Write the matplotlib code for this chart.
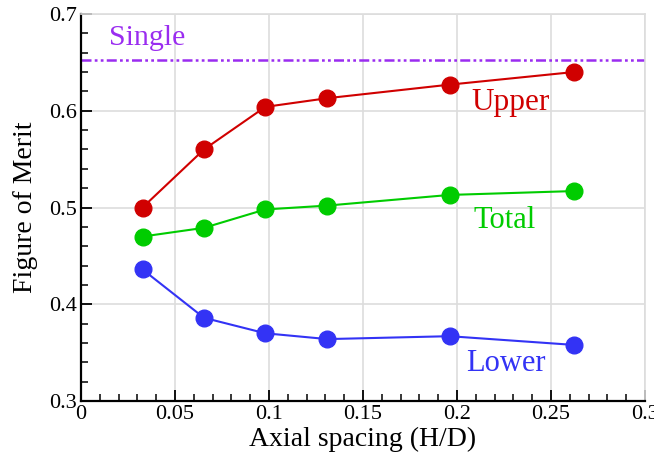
import numpy as np
import matplotlib
matplotlib.use('Agg')
import matplotlib.pyplot as plt
from matplotlib.ticker import MultipleLocator, FuncFormatter

spacing = [0.0327, 0.0654, 0.098, 0.131, 0.196, 0.262]
upper = [0.500, 0.560, 0.604, 0.613, 0.627, 0.640]
total = [0.470, 0.479, 0.498, 0.502, 0.513, 0.517]
lower = [0.436, 0.386, 0.370, 0.364, 0.367, 0.358]
single = 0.652

red = '#d00000'
green = '#00cc00'
blue = '#3333f5'
purple = '#9a2cf0'

plt.rcParams['font.family'] = ['Liberation Serif', 'DejaVu Serif']

fig = plt.figure(figsize=(6.54, 4.72), dpi=100)
ax = fig.add_axes([0.1239, 0.1504, 0.8624, 0.8199])

ax.axhline(single, color=purple, lw=1.8, dashes=(4, 1.3, 1.1, 1.3, 1.1, 1.3))
ax.plot(spacing, upper, '-o', color=red, lw=1.5, ms=12)
ax.plot(spacing, total, '-o', color=green, lw=1.5, ms=12)
ax.plot(spacing, lower, '-o', color=blue, lw=1.5, ms=12)

ax.text(0.035, 0.675, 'Single', color=purple, fontsize=21.5, ha='center', va='center')
ax.text(0.2287, 0.609, 'Upper', color=red, fontsize=22.5, ha='center', va='center')
ax.text(0.2255, 0.487, 'Total', color=green, fontsize=22, ha='center', va='center')
ax.text(0.226, 0.339, 'Lower', color=blue, fontsize=22, ha='center', va='center')

ax.set_xlim(0, 0.3)
ax.set_ylim(0.3, 0.7)
ax.xaxis.set_major_locator(MultipleLocator(0.05))
ax.xaxis.set_minor_locator(MultipleLocator(0.01))
ax.yaxis.set_major_locator(MultipleLocator(0.1))
ax.yaxis.set_minor_locator(MultipleLocator(0.02))
fmt = FuncFormatter(lambda v, p: ('%.2f' % v).rstrip('0').rstrip('.') if abs(v) > 1e-9 else '0')
ax.xaxis.set_major_formatter(fmt)
ax.yaxis.set_major_formatter(fmt)

ax.grid(True, which='major', color='#dddddd', lw=1.2)
ax.set_axisbelow(True)
ax.tick_params(which='both', direction='in', top=False, right=False, labelsize=16, color='black', pad=3)
ax.tick_params(which='major', length=8, width=1.3)
ax.tick_params(which='minor', length=5, width=1.1)
for s in ['left', 'bottom']:
    ax.spines[s].set_linewidth(1.6)
for s in ['top', 'right']:
    ax.spines[s].set_color('#dddddd')
    ax.spines[s].set_linewidth(1.2)

ax.set_xlabel('Axial spacing (H/D)', fontsize=20, labelpad=2)
ax.set_ylabel('Figure of Merit', fontsize=20, labelpad=8)

fig.savefig('out.png', dpi=100)
